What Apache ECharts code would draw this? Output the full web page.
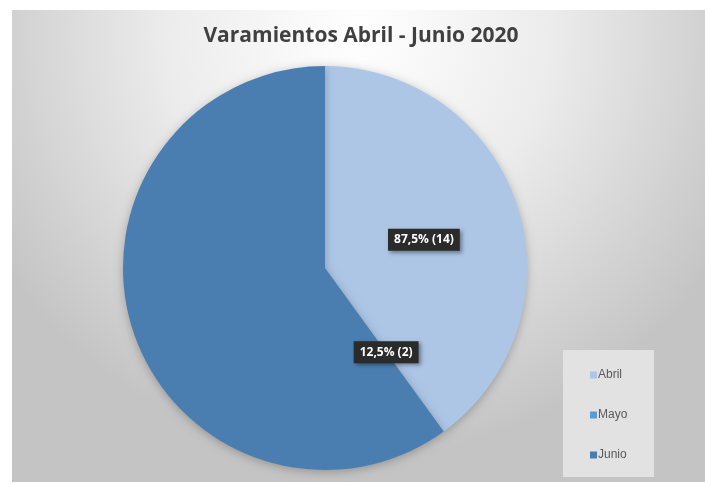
<!DOCTYPE html>
<html>
<head>
<meta charset="utf-8">
<script src="https://cdn.jsdelivr.net/npm/echarts@6/dist/echarts.min.js"></script>
<style>
  html, body { margin: 0; padding: 0; background: #fff; }
  #chart { width: 705px; height: 485px; }
</style>
</head>
<body>
<div id="chart"></div>
<script>
// data
const categories = ["Abril", "Mayo", "Junio"];
const values = [40, 0, 60];
const labelTexts = ["87,5% (14)", "12,5% (2)", ""];
const colors = ["#adc6e6", "#5b9bd5", "#4a7eb0"];

const chart = echarts.init(document.getElementById("chart"));

const option = {
  graphic: [
    {
      type: "rect",
      z: -10,
      shape: { x: 12, y: 10, width: 693, height: 472 },
      style: {
        fill: new echarts.graphic.RadialGradient(0.5, 0.05, 0.9, [
          { offset: 0, color: "#ffffff" },
          { offset: 0.45, color: "#ececec" },
          { offset: 1, color: "#c4c4c4" }
        ])
      }
    },
    {
      type: "rect",
      z: -5,
      shape: { x: 563, y: 350, width: 91, height: 127 },
      style: { fill: "#e2e2e2" }
    }
  ],
  title: {
    text: "Varamientos Abril - Junio 2020",
    left: 356,
    top: 21,
    textAlign: "center",
    textStyle: {
      fontFamily: "Open Sans",
      fontSize: 21,
      fontWeight: "bold",
      color: "#404040"
    }
  },
  legend: {
    orient: "vertical",
    left: 585,
    top: 364,
    itemGap: 28,
    itemWidth: 7,
    itemHeight: 7,
    icon: "rect",
    data: categories,
    textStyle: {
      fontFamily: "Liberation Sans",
      fontSize: 12,
      color: "#595959",
      padding: [0, 0, 0, -4]
    }
  },
  series: [
    {
      type: "pie",
      center: [325, 268],
      radius: [0, 202],
      startAngle: 90,
      clockwise: true,
      avoidLabelOverlap: false,
      stillShowZeroSum: true,
      itemStyle: {
        shadowBlur: 10,
        shadowColor: "rgba(0,0,0,0.25)",
        shadowOffsetY: 2
      },
      label: {
        show: true,
        position: "inside",
        formatter: function (p) { return labelTexts[p.dataIndex]; },
        fontFamily: "Open Sans",
        fontSize: 12,
        fontWeight: "bold",
        color: "#ffffff",
        backgroundColor: "#2b2b2b",
        padding: [5, 6, 5, 6],
        shadowBlur: 4,
        shadowColor: "rgba(0,0,0,0.4)",
        shadowOffsetX: 2,
        shadowOffsetY: 2
      },
      labelLine: { show: false },
      emphasis: { disabled: true },
      data: categories.map(function (name, i) {
        return {
          name: name,
          value: values[i],
          itemStyle: { color: colors[i] },
          label: {
            show: labelTexts[i] !== "",
            offset: i === 0 ? [0, 4] : [0, 0]
          }
        };
      })
    }
  ]
};

chart.setOption(option);
</script>
</body>
</html>
